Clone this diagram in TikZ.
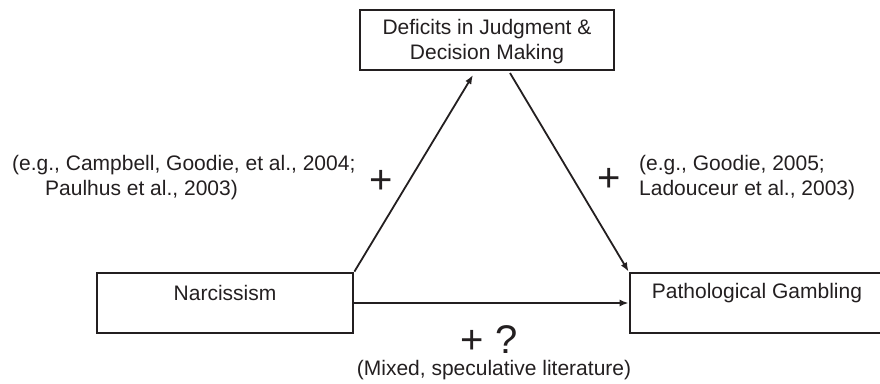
\documentclass[tikz,border=0pt]{standalone}
\usepackage{fontspec}
\setmainfont{Liberation Sans}
\usetikzlibrary{arrows.meta}
\definecolor{ink}{HTML}{231F20}
\begin{document}
\begin{tikzpicture}[x=1pt,y=-1pt,
  box/.style={draw=ink, line width=2.8pt, minimum width=256pt, minimum height=60pt, inner sep=0pt},
  txt/.style={text=ink, font=\fontsize{21}{25}\selectfont, inner sep=0pt},
  sign/.style={text=ink, font=\fontsize{40}{44}\selectfont, inner sep=0pt},
  link/.style={draw=ink, line width=1.8pt, -{Latex[length=9pt,width=7pt]}}]
\clip (0,0) rectangle (880,383);
% boxes
\node[box, minimum width=254pt] (ddm) at (487,40) {};
\node[txt, align=center] (ddmt) at (487,42) {Deficits in Judgment \&\\Decision Making};
\node[box] (narc) at (225,303) {};
\node[txt] (narct) at (225,293) {Narcissism};
\node[box] (path) at (758,303) {};
\node[txt] (patht) at (757,293) {Pathological Gambling};
% connectors
\coordinate (tipL) at (473,75);
\coordinate (startR) at (510,73);
\draw[link] (narc.north east) -- (tipL);
\draw[link] (startR) -- (path.north west);
\draw[link] (narc.east) -- (path.west);
% labels
\node[sign] (plusL) at (381,182) {+};
\node[sign] (plusR) at (609,180) {+};
\node[txt, align=left, anchor=west] (citeL) at (12,178) {(e.g., Campbell, Goodie, et al., 2004;\\\hspace*{33pt}Paulhus et al., 2003)};
\node[txt, align=left, anchor=west] (citeR) at (639,178) {(e.g., Goodie, 2005;\\Ladouceur et al., 2003)};
\node[sign] (plusQ) at (489,340) {+ ?};
\node[txt] (mixed) at (494,370) {(Mixed, speculative literature)};
\end{tikzpicture}
\end{document}
